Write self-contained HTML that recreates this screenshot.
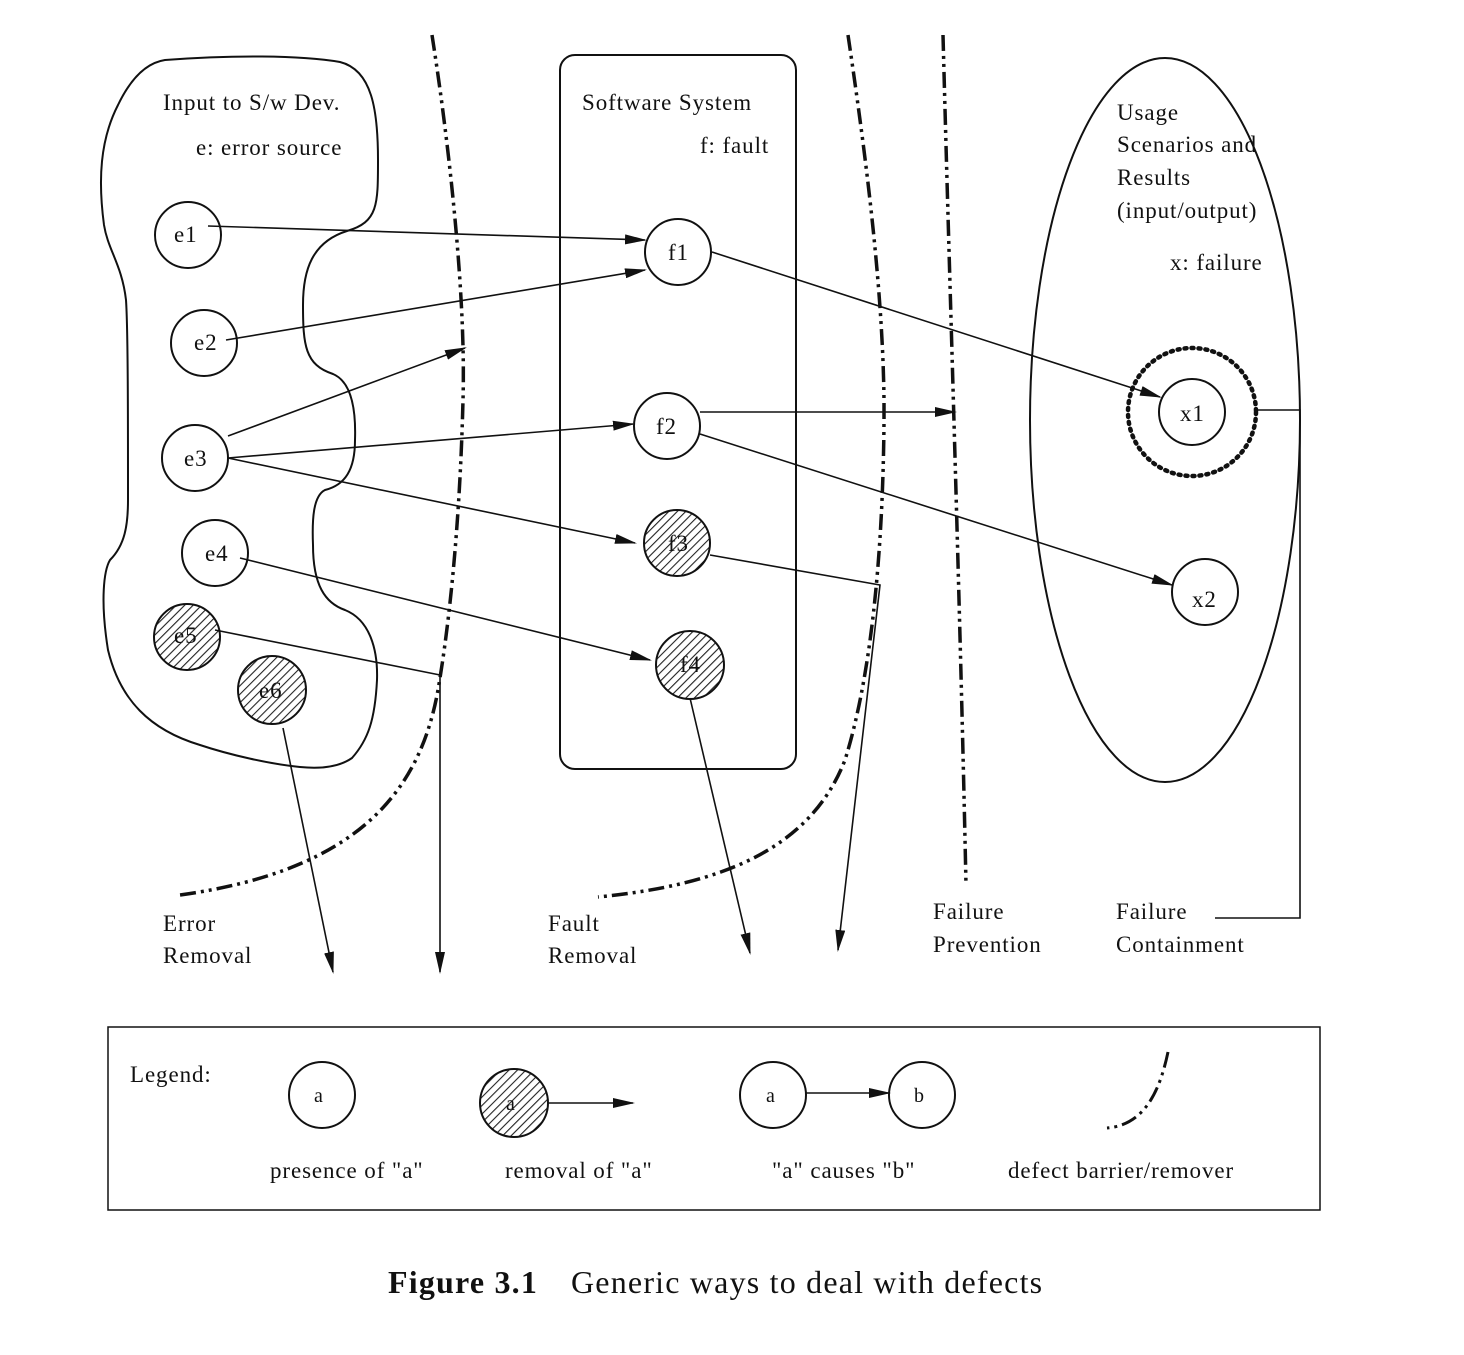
<!DOCTYPE html>
<html><head><style>
body{margin:0;background:#fff;}
svg text{font-family:"Liberation Serif",serif;fill:#111;}
</style></head><body>
<svg width="1464" height="1350" viewBox="0 0 1464 1350" xmlns="http://www.w3.org/2000/svg">
<defs>
<pattern id="h" width="6" height="6" patternUnits="userSpaceOnUse" patternTransform="rotate(45)">
<rect width="6" height="6" fill="#fff"/><line x1="0" y1="0" x2="0" y2="6" stroke="#222" stroke-width="2.2"/></pattern>
<marker id="a" markerWidth="22" markerHeight="10" refX="20" refY="5" orient="auto" markerUnits="userSpaceOnUse">
<path d="M0,0 L22,5 L0,10 z" fill="#111"/></marker>
</defs>
<g fill="none" stroke="#111" stroke-width="2">
<path d="M165,60 C230,55 300,55 340,62 C372,70 378,110 378,160 C378,205 378,222 347,231 C312,242 303,270 303,305 C303,345 305,365 333,374 C352,382 356,410 355,440 C355,470 345,485 325,490 C313,496 312,520 313,545 C313,585 325,603 345,610 C370,620 378,650 377,680 C375,720 368,740 352,758 C335,770 310,768 300,767 C270,764 230,755 200,745 C150,730 120,700 108,650 C100,600 104,570 110,560 C125,545 128,525 128,500 C128,420 128,330 126,300 C122,265 108,250 104,225 C98,180 100,140 118,105 C130,80 145,63 165,60 Z"/>
<rect x="560" y="55" width="236" height="714" rx="15"/>
<ellipse cx="1165" cy="420" rx="135" ry="362"/>
<rect x="108" y="1027" width="1212" height="183" stroke-width="1.5"/>
</g>
<g fill="none" stroke="#111" stroke-width="3.5" stroke-dasharray="16,5,3,5,3,5">
<path d="M432,35 C450,150 466,300 463,400 C460,520 450,620 438,690 C420,790 360,870 180,895"/>
<path d="M848,35 C865,150 885,300 884,420 C883,560 870,680 845,760 C810,850 720,885 598,897"/>
<path d="M943,35 C950,300 960,600 966,885"/>
<path d="M1168,1052 C1160,1090 1145,1125 1107,1128" stroke-width="3"/>
</g>
<g stroke="#111" stroke-width="2" fill="#fff">
<circle cx="188" cy="235" r="33"/>
<circle cx="204" cy="343" r="33"/>
<circle cx="195" cy="458" r="33"/>
<circle cx="215" cy="553" r="33"/>
<circle cx="187" cy="637" r="33" fill="url(#h)"/>
<circle cx="272" cy="690" r="34" fill="url(#h)"/>
<circle cx="678" cy="252" r="33"/>
<circle cx="667" cy="426" r="33"/>
<circle cx="677" cy="543" r="33" fill="url(#h)"/>
<circle cx="690" cy="665" r="34" fill="url(#h)"/>
<circle cx="1192" cy="412" r="33"/>
<circle cx="1192" cy="412" r="64" fill="none" stroke-width="4.5" stroke-dasharray="2,5" stroke-linecap="round"/>
<circle cx="1205" cy="592" r="33"/>
<circle cx="322" cy="1095" r="33"/>
<circle cx="514" cy="1103" r="34" fill="url(#h)"/>
<circle cx="773" cy="1095" r="33"/>
<circle cx="922" cy="1095" r="33"/>
</g>
<g stroke="#111" stroke-width="1.6" fill="none" marker-end="url(#a)">
<line x1="208" y1="226" x2="645" y2="240"/>
<line x1="226" y1="340" x2="645" y2="270"/>
<line x1="228" y1="436" x2="465" y2="348"/>
<line x1="228" y1="458" x2="633" y2="424"/>
<line x1="228" y1="458" x2="635" y2="543"/>
<line x1="240" y1="558" x2="650" y2="660"/>
<polyline points="215,630 440,675 440,972"/>
<line x1="283" y1="728" x2="333" y2="972"/>
<line x1="712" y1="252" x2="1160" y2="397"/>
<line x1="700" y1="412" x2="955" y2="412"/>
<line x1="700" y1="434" x2="1172" y2="585"/>
<polyline points="710,555 880,585 838,950"/>
<line x1="690" y1="698" x2="750" y2="953"/>
<line x1="548" y1="1103" x2="633" y2="1103"/>
<line x1="806" y1="1093" x2="889" y2="1093"/>
</g>
<polyline points="1257,410 1300,410 1300,918 1215,918" fill="none" stroke="#111" stroke-width="1.6"/>
<g font-size="23" letter-spacing="0.9">
<text x="163" y="110">Input to S/w Dev.</text>
<text x="196" y="155">e: error source</text>
<text x="582" y="110">Software System</text>
<text x="700" y="153">f: fault</text>
<text x="1117" y="120">Usage</text>
<text x="1117" y="152">Scenarios and</text>
<text x="1117" y="185">Results</text>
<text x="1117" y="218">(input/output)</text>
<text x="1170" y="270">x: failure</text>
<text x="174" y="242">e1</text>
<text x="194" y="350">e2</text>
<text x="184" y="466">e3</text>
<text x="205" y="561">e4</text>
<text x="174" y="643">e5</text>
<text x="259" y="698">e6</text>
<text x="668" y="260">f1</text>
<text x="656" y="434">f2</text>
<text x="668" y="551">f3</text>
<text x="680" y="672">f4</text>
<text x="1180" y="421">x1</text>
<text x="1192" y="607">x2</text>
<text x="163" y="931">Error</text>
<text x="163" y="963">Removal</text>
<text x="548" y="931">Fault</text>
<text x="548" y="963">Removal</text>
<text x="933" y="919">Failure</text>
<text x="933" y="952">Prevention</text>
<text x="1116" y="919">Failure</text>
<text x="1116" y="952">Containment</text>
<text x="130" y="1082">Legend:</text>
<text x="314" y="1102" font-size="20">a</text>
<text x="506" y="1110" font-size="20">a</text>
<text x="766" y="1102" font-size="20">a</text>
<text x="914" y="1102" font-size="20">b</text>
<text x="270" y="1178">presence of "a"</text>
<text x="505" y="1178">removal of "a"</text>
<text x="772" y="1178">"a" causes "b"</text>
<text x="1008" y="1178">defect barrier/remover</text>
</g>
<text x="388" y="1293" font-size="32" font-weight="bold" letter-spacing="1.2">Figure 3.1</text>
<text x="571" y="1293" font-size="32" letter-spacing="1.2">Generic ways to deal with defects</text>
</svg>
</body></html>
